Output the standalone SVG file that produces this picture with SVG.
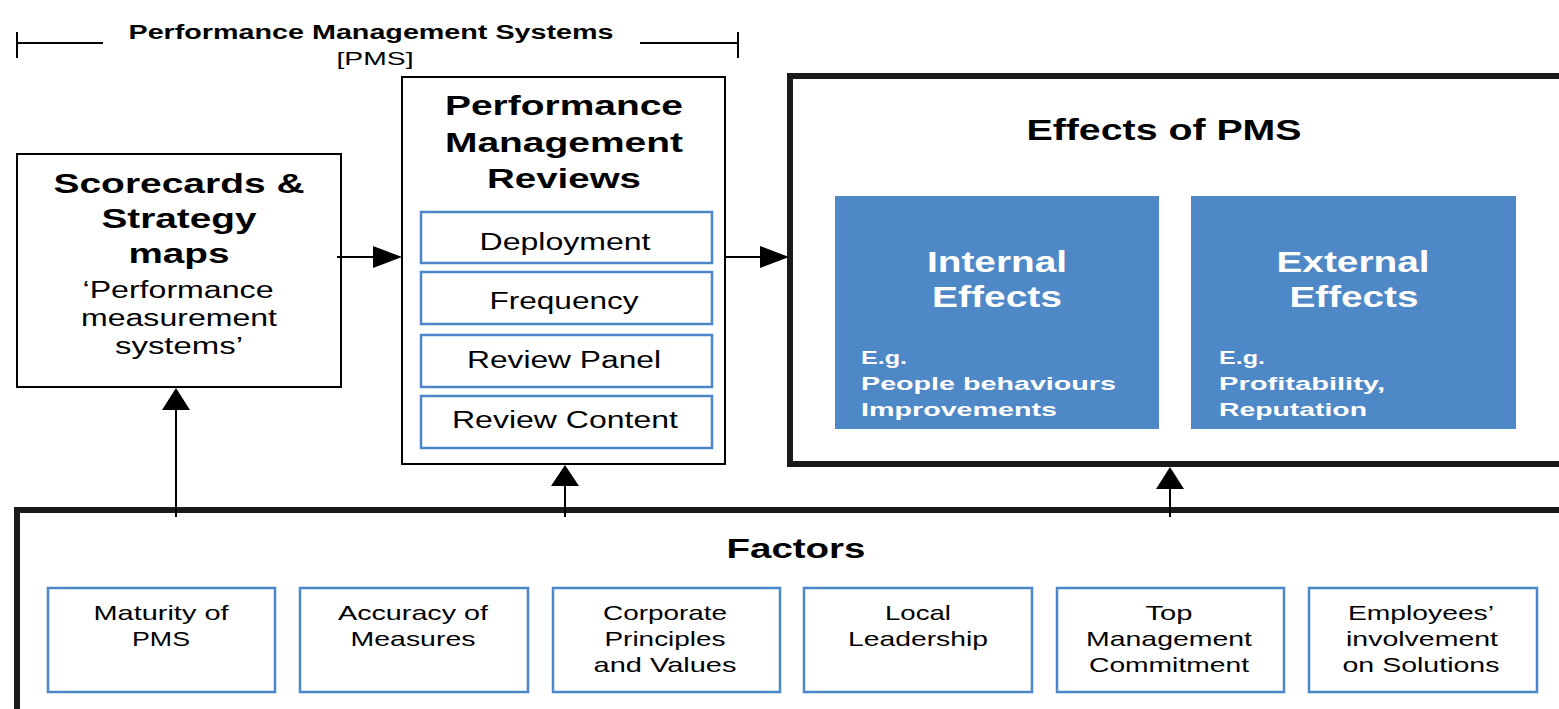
<svg xmlns="http://www.w3.org/2000/svg" width="1559" height="709" viewBox="0 0 1559 709">
  <style>
    text { font-family: "Liberation Sans", Arial, sans-serif; fill: #000; }
    .b { font-weight: bold; }
    .w { fill: #fff; font-weight: bold; }
    .box { fill: #fff; stroke: #000; stroke-width: 2; }
    .thick { fill: #fff; stroke: #1a1a1a; stroke-width: 6; }
    .sub { fill: #fff; stroke: #4a86c8; stroke-width: 2.5; }
    .eff { fill: #4f88c6; }
    .ln { stroke: #000; stroke-width: 2; fill: none; }
    .head { fill: #000; }
  </style>

  <!-- bracket spanning the PMS stages -->
  <g id="pms-bracket">
    <path class="ln" d="M17 32 V58 M17 43 H103 M640 43 H738 M738 32 V58"/>
    <text class="b" x="371" y="39" font-size="20" text-anchor="middle" textLength="485" lengthAdjust="spacingAndGlyphs">Performance Management Systems</text>
    <text x="375" y="65" font-size="19" text-anchor="middle" textLength="77" lengthAdjust="spacingAndGlyphs">[PMS]</text>
  </g>

  <!-- scorecards node -->
  <g id="scorecards">
    <rect class="box" x="17" y="154" width="324" height="233"/>
    <text class="b" x="179" y="193" font-size="28" text-anchor="middle" textLength="251" lengthAdjust="spacingAndGlyphs">Scorecards &amp;</text>
    <text class="b" x="179" y="228" font-size="28" text-anchor="middle" textLength="155" lengthAdjust="spacingAndGlyphs">Strategy</text>
    <text class="b" x="179" y="263" font-size="28" text-anchor="middle" textLength="101" lengthAdjust="spacingAndGlyphs">maps</text>
    <text x="178" y="298" font-size="23" text-anchor="middle" textLength="191" lengthAdjust="spacingAndGlyphs">‘Performance</text>
    <text x="179" y="326" font-size="23" text-anchor="middle" textLength="196" lengthAdjust="spacingAndGlyphs">measurement</text>
    <text x="179" y="354" font-size="23" text-anchor="middle" textLength="128" lengthAdjust="spacingAndGlyphs">systems’</text>
  </g>

  <!-- performance management reviews node -->
  <g id="reviews">
    <rect class="box" x="402" y="77" width="323" height="387"/>
    <text class="b" x="564" y="115" font-size="27" text-anchor="middle" textLength="238" lengthAdjust="spacingAndGlyphs">Performance</text>
    <text class="b" x="564" y="152" font-size="27" text-anchor="middle" textLength="238" lengthAdjust="spacingAndGlyphs">Management</text>
    <text class="b" x="564" y="188" font-size="27" text-anchor="middle" textLength="154" lengthAdjust="spacingAndGlyphs">Reviews</text>
    <rect class="sub" x="421" y="212" width="291" height="51"/>
    <text x="565" y="250" font-size="23" text-anchor="middle" textLength="171" lengthAdjust="spacingAndGlyphs">Deployment</text>
    <rect class="sub" x="421" y="272" width="291" height="52"/>
    <text x="564" y="309" font-size="23" text-anchor="middle" textLength="149" lengthAdjust="spacingAndGlyphs">Frequency</text>
    <rect class="sub" x="421" y="335" width="291" height="52"/>
    <text x="564" y="368" font-size="23" text-anchor="middle" textLength="194" lengthAdjust="spacingAndGlyphs">Review Panel</text>
    <rect class="sub" x="421" y="396" width="291" height="52"/>
    <text x="565" y="428" font-size="23" text-anchor="middle" textLength="226" lengthAdjust="spacingAndGlyphs">Review Content</text>
  </g>

  <!-- effects node -->
  <g id="effects">
    <rect class="thick" x="790" y="76" width="800" height="388"/>
    <text class="b" x="1164" y="140" font-size="29" text-anchor="middle" textLength="275" lengthAdjust="spacingAndGlyphs">Effects of PMS</text>
    <rect class="eff" x="835" y="196" width="324" height="233"/>
    <text class="w" x="997" y="272" font-size="29" text-anchor="middle" textLength="140" lengthAdjust="spacingAndGlyphs">Internal</text>
    <text class="w" x="997" y="307" font-size="29" text-anchor="middle" textLength="130" lengthAdjust="spacingAndGlyphs">Effects</text>
    <text class="w" x="861" y="364" font-size="19" textLength="46" lengthAdjust="spacingAndGlyphs">E.g.</text>
    <text class="w" x="861" y="390" font-size="19" textLength="255" lengthAdjust="spacingAndGlyphs">People behaviours</text>
    <text class="w" x="861" y="416" font-size="19" textLength="196" lengthAdjust="spacingAndGlyphs">Improvements</text>
    <rect class="eff" x="1191" y="196" width="325" height="233"/>
    <text class="w" x="1353" y="272" font-size="29" text-anchor="middle" textLength="153" lengthAdjust="spacingAndGlyphs">External</text>
    <text class="w" x="1354" y="307" font-size="29" text-anchor="middle" textLength="129" lengthAdjust="spacingAndGlyphs">Effects</text>
    <text class="w" x="1219" y="364" font-size="19" textLength="46" lengthAdjust="spacingAndGlyphs">E.g.</text>
    <text class="w" x="1219" y="390" font-size="19" textLength="166" lengthAdjust="spacingAndGlyphs">Profitability,</text>
    <text class="w" x="1219" y="416" font-size="19" textLength="148" lengthAdjust="spacingAndGlyphs">Reputation</text>
  </g>

  <!-- factors node -->
  <g id="factors">
    <rect class="thick" x="17" y="510" width="1600" height="300"/>
    <text class="b" x="796" y="558" font-size="27" text-anchor="middle" textLength="139" lengthAdjust="spacingAndGlyphs">Factors</text>

    <rect class="sub" x="48" y="588" width="227" height="104"/>
    <text x="161" y="620" font-size="21" text-anchor="middle" textLength="135" lengthAdjust="spacingAndGlyphs">Maturity of</text>
    <text x="161" y="646" font-size="21" text-anchor="middle" textLength="58" lengthAdjust="spacingAndGlyphs">PMS</text>

    <rect class="sub" x="300" y="588" width="228" height="104"/>
    <text x="413" y="620" font-size="21" text-anchor="middle" textLength="150" lengthAdjust="spacingAndGlyphs">Accuracy of</text>
    <text x="413" y="646" font-size="21" text-anchor="middle" textLength="125" lengthAdjust="spacingAndGlyphs">Measures</text>

    <rect class="sub" x="553" y="588" width="227" height="104"/>
    <text x="665" y="620" font-size="21" text-anchor="middle" textLength="124" lengthAdjust="spacingAndGlyphs">Corporate</text>
    <text x="665" y="646" font-size="21" text-anchor="middle" textLength="121" lengthAdjust="spacingAndGlyphs">Principles</text>
    <text x="665" y="672" font-size="21" text-anchor="middle" textLength="143" lengthAdjust="spacingAndGlyphs">and Values</text>

    <rect class="sub" x="804" y="588" width="228" height="104"/>
    <text x="918" y="620" font-size="21" text-anchor="middle" textLength="66" lengthAdjust="spacingAndGlyphs">Local</text>
    <text x="918" y="646" font-size="21" text-anchor="middle" textLength="140" lengthAdjust="spacingAndGlyphs">Leadership</text>

    <rect class="sub" x="1057" y="588" width="227" height="104"/>
    <text x="1169" y="620" font-size="21" text-anchor="middle" textLength="47" lengthAdjust="spacingAndGlyphs">Top</text>
    <text x="1169" y="646" font-size="21" text-anchor="middle" textLength="166" lengthAdjust="spacingAndGlyphs">Management</text>
    <text x="1169" y="672" font-size="21" text-anchor="middle" textLength="160" lengthAdjust="spacingAndGlyphs">Commitment</text>

    <rect class="sub" x="1309" y="588" width="228" height="104"/>
    <text x="1421" y="620" font-size="21" text-anchor="middle" textLength="146" lengthAdjust="spacingAndGlyphs">Employees’</text>
    <text x="1422" y="646" font-size="21" text-anchor="middle" textLength="152" lengthAdjust="spacingAndGlyphs">involvement</text>
    <text x="1421" y="672" font-size="21" text-anchor="middle" textLength="157" lengthAdjust="spacingAndGlyphs">on Solutions</text>
  </g>

  <!-- connectors -->
  <g id="connectors">
    <path class="ln" d="M337 257 H375"/>
    <polygon class="head" points="373,246 402,257 373,268"/>
    <path class="ln" d="M725 257 H762"/>
    <polygon class="head" points="760,246 789,257 760,268"/>
    <path class="ln" d="M176 517 V408"/>
    <polygon class="head" points="162,410 176,388 190,410"/>
    <path class="ln" d="M565 517 V484"/>
    <polygon class="head" points="551,486 565,465 579,486"/>
    <path class="ln" d="M1170 517 V484"/>
    <polygon class="head" points="1156,489 1170,467 1184,489"/>
  </g>
</svg>
